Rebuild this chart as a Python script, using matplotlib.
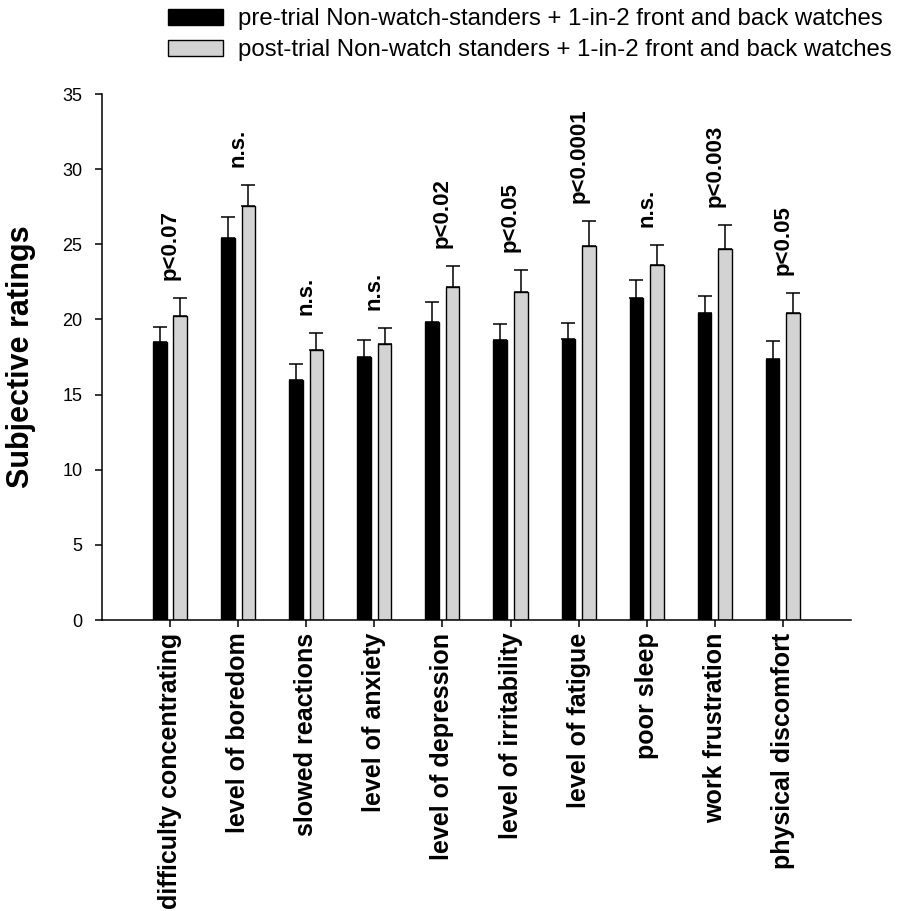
import matplotlib
matplotlib.use("Agg")
import matplotlib.pyplot as plt
import numpy as np

plt.rcParams['font.family'] = ['Liberation Sans', 'DejaVu Sans']

categories = ["difficulty concentrating", "level of boredom", "slowed reactions",
              "level of anxiety", "level of depression", "level of irritability",
              "level of fatigue", "poor sleep", "work frustration", "physical discomfort"]
pre = [18.5, 25.4, 16.0, 17.5, 19.8, 18.6, 18.7, 21.4, 20.4, 17.4]
pre_err = [1.0, 1.4, 1.05, 1.15, 1.35, 1.1, 1.05, 1.2, 1.15, 1.15]
post = [20.25, 27.55, 18.0, 18.35, 22.15, 21.8, 24.9, 23.65, 24.7, 20.45]
post_err = [1.2, 1.4, 1.1, 1.1, 1.4, 1.5, 1.65, 1.3, 1.6, 1.3]
pvals = ["p<0.07", "n.s.", "n.s.", "n.s.", "p<0.02", "p<0.05",
         "p<0.0001", "n.s.", "p<0.003", "p<0.05"]
yticks = [0, 5, 10, 15, 20, 25, 30, 35]

label_pre = "pre-trial Non-watch-standers + 1-in-2 front and back watches"
label_post = "post-trial Non-watch standers + 1-in-2 front and back watches"

x = np.arange(len(categories))
w = 0.2

fig = plt.figure(figsize=(9, 9.11), dpi=100)
ax = fig.add_axes([0.1133, 0.3194, 0.8322, 0.5774])

err_kw = dict(ecolor='black', elinewidth=1.1, capsize=5, capthick=1.1)
b1 = ax.bar(x - 0.15, pre, w, color='black', edgecolor='black', linewidth=1.0,
            yerr=[np.zeros(len(pre)), pre_err], error_kw=err_kw, label=label_pre)
b2 = ax.bar(x + 0.15, post, w, color='#d3d3d3', edgecolor='black', linewidth=1.0,
            yerr=[np.zeros(len(post)), post_err], error_kw=err_kw, label=label_post)

# significance labels above the post-trial bars
for i, txt in enumerate(pvals):
    ax.text(x[i], post[i] + post_err[i] + 1.2, txt, rotation=90, ha='center',
            va='bottom', fontsize=16, fontweight='bold')

ax.set_xlim(-1, 10)
ax.set_ylim(0, 35)
ax.set_yticks(yticks)
ax.set_xticks(x)
ax.set_xticklabels(categories, rotation=90, fontsize=18, fontweight='bold')
ax.tick_params(axis='y', labelsize=13, length=5, width=1.1, pad=9)
ax.tick_params(axis='x', length=5, width=1.1, pad=4)
for s in ['top', 'right']:
    ax.spines[s].set_visible(False)
for s in ['left', 'bottom']:
    ax.spines[s].set_linewidth(1.1)

ax.set_ylabel("Subjective ratings", fontsize=22, fontweight='bold')
ax.yaxis.set_label_coords(-0.088, 0.5)

fig.legend(handles=[b1, b2], loc='upper left', bbox_to_anchor=(168 / 900, 1 - 8 / 911),
           frameon=False, fontsize=17.3, borderpad=0, borderaxespad=0,
           handlelength=2.3, handleheight=0.65, handletextpad=0.62, labelspacing=0.38)

fig.savefig("out.png", dpi=100)
